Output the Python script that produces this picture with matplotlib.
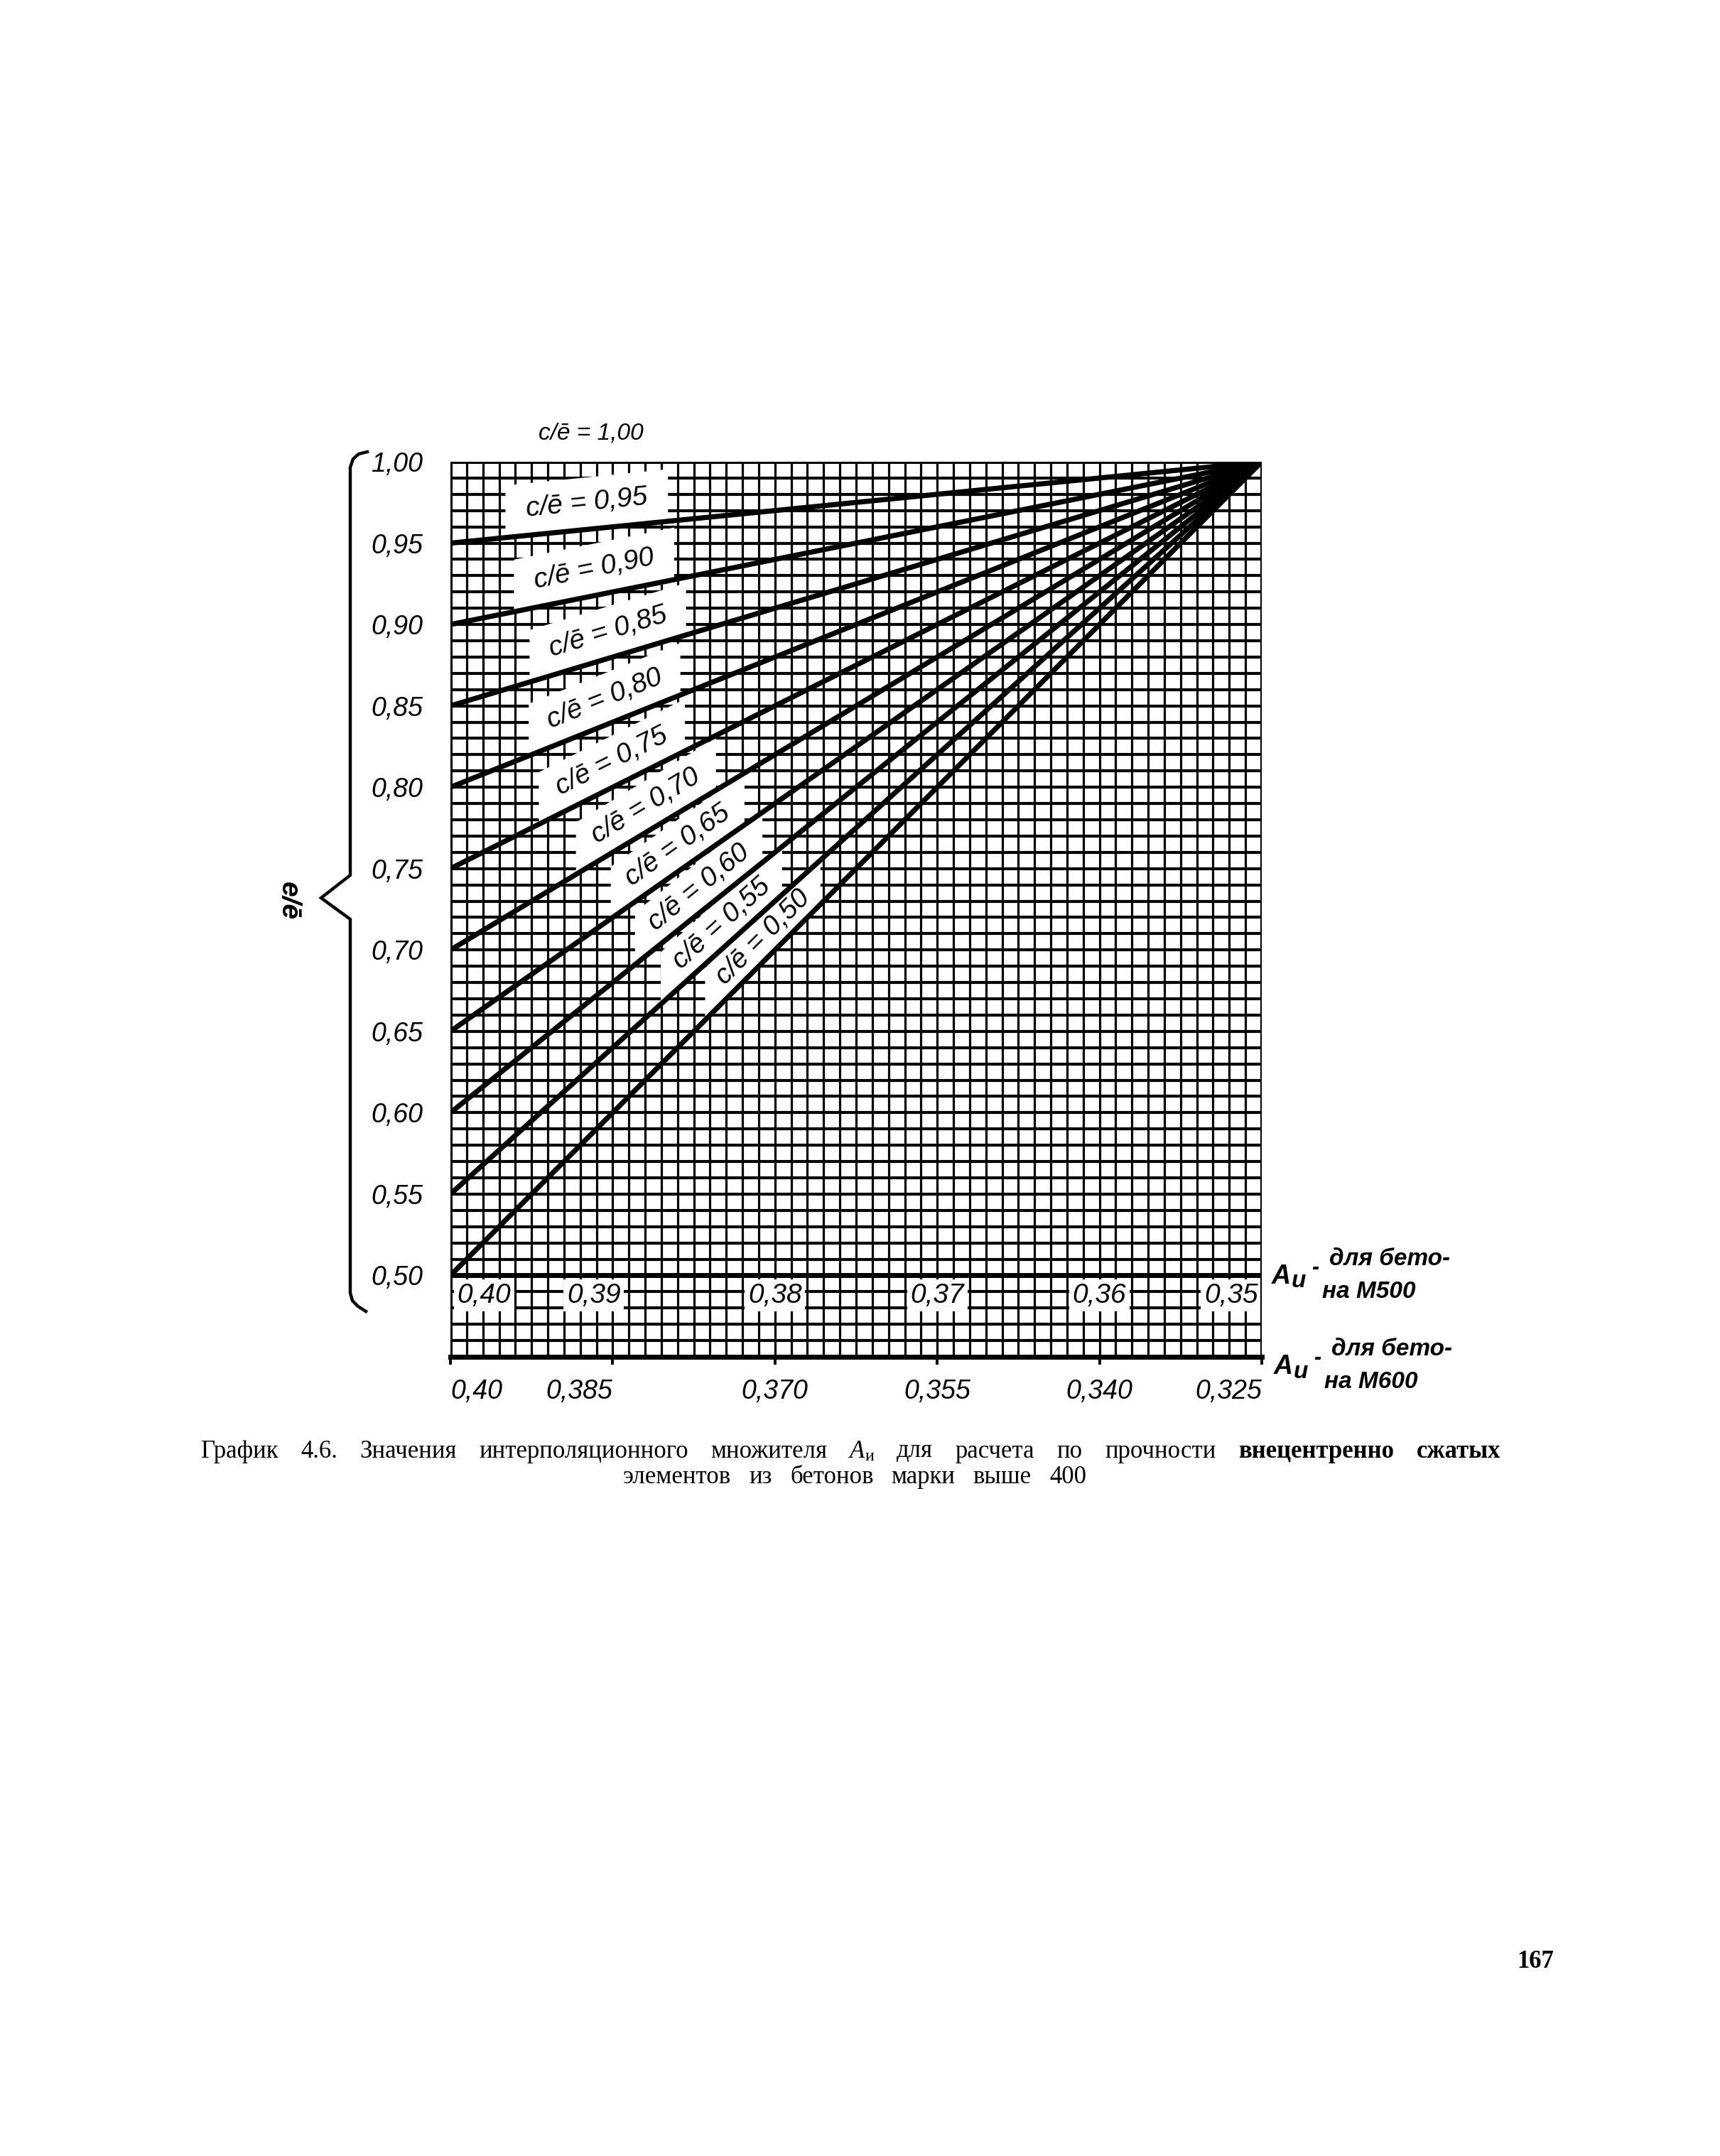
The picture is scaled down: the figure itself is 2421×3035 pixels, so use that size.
import numpy as np
import matplotlib
matplotlib.use("Agg")
import matplotlib.pyplot as plt
from matplotlib.patches import Polygon
from matplotlib.lines import Line2D

# ---------------- data ----------------
ce_values = [0.95, 0.90, 0.85, 0.80, 0.75, 0.70, 0.65, 0.60, 0.55, 0.50]
ce_labels = ["c/ē = 0,95", "c/ē = 0,90", "c/ē = 0,85", "c/ē = 0,80", "c/ē = 0,75",
             "c/ē = 0,70", "c/ē = 0,65", "c/ē = 0,60", "c/ē = 0,55", "c/ē = 0,50"]
au_start = 0.40        # Au (M500) where every line starts (e/ē = c/ē)
au_end = 0.35          # Au (M500) of the common point
ee_end = 1.00          # e/ē of the common point
top_label = "c/ē = 1,00"

ytick_values = [1.00, 0.95, 0.90, 0.85, 0.80, 0.75, 0.70, 0.65, 0.60, 0.55, 0.50]
ytick_labels = ["1,00", "0,95", "0,90", "0,85", "0,80", "0,75", "0,70",
                "0,65", "0,60", "0,55", "0,50"]
m500_ticks = [0.40, 0.39, 0.38, 0.37, 0.36, 0.35]
m500_labels = ["0,40", "0,39", "0,38", "0,37", "0,36", "0,35"]
m600_ticks = [0.400, 0.385, 0.370, 0.355, 0.340, 0.325]
m600_labels = ["0,40", "0,385", "0,370", "0,355", "0,340", "0,325"]

caption_line1 = ["График", "4.6.", "Значения", "интерполяционного", "множителя", "A|и",
                 "для", "расчета", "по", "прочности", "внецентренно", "сжатых"]
caption_bold = [False] * 10 + [True, True]
caption_line2 = ["элементов", "из", "бетонов", "марки", "выше", "400"]
page_number = "167"

# ---------------- figure ----------------
W, H, DPI = 2421, 3035, 100
SANS = ['Liberation Sans Narrow', 'Liberation Sans', 'DejaVu Sans']
SERIF = ['Liberation Serif', 'DejaVu Serif']
plt.rcParams['font.family'] = SANS

fig = plt.figure(figsize=(W / DPI, H / DPI), dpi=DPI)
fig.patch.set_facecolor('white')


def px(x, y):
    return x / W, 1 - y / H


AX_L, AX_R, AX_T, AX_B = 634, 1776, 650, 1910
ax = fig.add_axes([AX_L / W, 1 - AX_B / H, (AX_R - AX_L) / W, (AX_B - AX_T) / H])
ax.set_xlim(m500_ticks[0], m500_ticks[-1])
y_low = 0.45
ax.set_ylim(y_low, ee_end)
for s in ax.spines.values():
    s.set_visible(False)
ax.set_xticks([])

# grid
xs_grid = np.linspace(m500_ticks[0], m500_ticks[-1], 51)
ys_grid = np.linspace(y_low, ee_end, 56)
ax.vlines(xs_grid, y_low, ee_end, colors='black', lw=2.3, zorder=1)
ax.hlines(ys_grid, m500_ticks[0], m500_ticks[-1], colors='black', lw=3.0, zorder=1)
ax.vlines([m500_ticks[0], m500_ticks[-1]], y_low, ee_end, colors='black', lw=3.6, zorder=7)
ax.hlines([ee_end], m500_ticks[0], m500_ticks[-1], colors='black', lw=3.6, zorder=7)
ax.hlines([ytick_values[-1]], m500_ticks[0], m500_ticks[-1], colors='black', lw=5.0, zorder=7)

# c/e lines
for c in ce_values:
    ax.plot([au_start, au_end], [c, ee_end], color='black', lw=5.2, zorder=5,
            solid_capstyle='round')


def line_y(c, t):
    return c + (ee_end - c) * t


def t_to_x(t):
    return au_start + (au_end - au_start) * t


# labels on lines (white bands)
label_t = [0.168, 0.177, 0.194, 0.19, 0.199, 0.241, 0.28, 0.306, 0.334, 0.385]
band_h = 0.032
half_len = 115
for c, lab, tc in zip(ce_values, ce_labels, label_t):
    p1 = ax.transData.transform((au_start, c))
    p2 = ax.transData.transform((au_end, ee_end))
    theta = np.arctan2(p2[1] - p1[1], p2[0] - p1[0])
    dt = half_len * np.cos(theta) / ax.bbox.width
    ts = np.linspace(tc - dt, tc + dt, 40)
    upper = min(c + 0.05, ee_end)
    bottom = line_y(c, ts)
    top = np.minimum(line_y(upper, ts), bottom + band_h)
    verts = list(zip(t_to_x(ts), bottom)) + list(zip(t_to_x(ts[::-1]), top[::-1]))
    ax.add_patch(Polygon(verts, closed=True, fc='white', ec='none', zorder=2))
    yb = line_y(c, tc)
    yt = min(line_y(upper, tc), yb + band_h)
    ax.text(t_to_x(tc), (yb + yt) / 2, lab, rotation=np.degrees(theta),
            rotation_mode='anchor', ha='center', va='center', fontsize=28,
            style='italic', zorder=8)

# y tick labels
ax.set_yticks(ytick_values)
ax.set_yticklabels(ytick_labels, fontsize=27, style='italic')
ax.tick_params(axis='y', length=0, pad=28)

# M500 scale labels (in white boxes just below the 0,50 line)
m500_ha = ['left', 'right', 'center', 'center', 'center', 'right']
m500_dx = [7, 8, 0, 0, 0, -4]
for v, lab, ha, dx in zip(m500_ticks, m500_labels, m500_ha, m500_dx):
    ax.annotate(lab, (v, 0.4877), xytext=(dx, 0), textcoords='offset points',
                ha=ha, va='center', fontsize=28, style='italic', zorder=3,
                bbox=dict(boxstyle='square,pad=0.12', fc='white', ec='none'))

# M600 scale on the bottom axis
ratio = (m600_ticks[0] - m600_ticks[-1]) / (m500_ticks[0] - m500_ticks[-1])


def m500_to_m600(a):
    return m600_ticks[0] - (m500_ticks[0] - np.asarray(a)) * ratio


def m600_to_m500(b):
    return m500_ticks[0] - (m600_ticks[0] - np.asarray(b)) / ratio


sec = ax.secondary_xaxis('bottom', functions=(m500_to_m600, m600_to_m500))
sec.set_xticks(m600_ticks)
sec.set_xticklabels(m600_labels, fontsize=27, style='italic')
sec.tick_params(direction='out', length=8, width=2.8, pad=14)
sec.spines['bottom'].set_linewidth(5.0)
for lbl, ha in zip(sec.get_xticklabels(), ['left', 'right', 'center', 'center', 'center', 'right']):
    lbl.set_ha(ha)

# top label
fig.text(*px(832, 610), top_label, fontsize=24, style='italic', ha='center', va='center')

# brace and y label
brace = [(517, 636), (505, 639), (497, 646), (493, 658), (493, 1232), (452, 1264),
         (493, 1294), (493, 1820), (496, 1831), (504, 1839), (515, 1846)]
bx = [p[0] / W for p in brace]
by = [1 - p[1] / H for p in brace]
fig.add_artist(Line2D(bx, by, transform=fig.transFigure, color='black', lw=3.2,
                      solid_joinstyle='miter'))
fig.text(*px(406, 1268), "e/ē", fontsize=28, style='italic', rotation=-90,
         ha='center', va='center', weight='bold')

# right-hand labels
BI = dict(style='italic', weight='bold', family=['Liberation Sans', 'DejaVu Sans'])
for (ax_x, ax_y), lines_txt in [((1803, 1797), ("для бето-", "на М500")),
                                 ((1806, 1924), ("для бето-", "на М600"))]:
    fig.text(*px(ax_x, ax_y), "A", fontsize=27, ha='center', va='center', **BI)
    fig.text(*px(ax_x + 25, ax_y + 7), "и", fontsize=24, ha='center', va='center', **BI)
    fig.text(*px(ax_x + 48, ax_y - 12), "-", fontsize=22, ha='center', va='center', **BI)
    fig.text(*px(ax_x + 68, ax_y - 25), lines_txt[0], fontsize=24, ha='left', va='center', **BI)
    fig.text(*px(ax_x + 58, ax_y + 21), lines_txt[1], fontsize=24, ha='left', va='center', **BI)

# caption (words spread like the printed text)
renderer = fig.canvas.get_renderer()
cap_fs = 25


def spread_words(words, bolds, y, left, right):
    items = []
    for word, bold in zip(words, bolds):
        if "|" in word:
            main, sub = word.split("|")
            t1 = fig.text(0, 1 - y / H, main, fontsize=cap_fs, family=SERIF,
                          style='italic', ha='left', va='center')
            t2 = fig.text(0, 1 - (y + 8) / H, sub, fontsize=cap_fs * 0.7,
                          family=SERIF, ha='left', va='center')
            w1 = t1.get_window_extent(renderer).width
            w2 = t2.get_window_extent(renderer).width
            items.append(([(t1, 0), (t2, w1 + 1)], w1 + w2 + 1))
        else:
            t = fig.text(0, 1 - y / H, word, fontsize=cap_fs, family=SERIF,
                         weight='bold' if bold else 'normal', ha='left', va='center')
            items.append(([(t, 0)], t.get_window_extent(renderer).width))
    total = sum(w for _, w in items)
    gap = (right - left - total) / (len(items) - 1)
    xc = left
    for parts, w in items:
        for t, off in parts:
            x0, y0 = t.get_position()
            t.set_position(((xc + off) / W, y0))
        xc += w + gap


spread_words(caption_line1, caption_bold, 2043, 283, 2112)
spread_words(caption_line2, [False] * len(caption_line2), 2080, 877, 1529)

fig.text(*px(2161, 2761), page_number, fontsize=25, family=SERIF, weight='bold',
         ha='center', va='center')

fig.savefig("out.png", dpi=DPI, facecolor='white')
